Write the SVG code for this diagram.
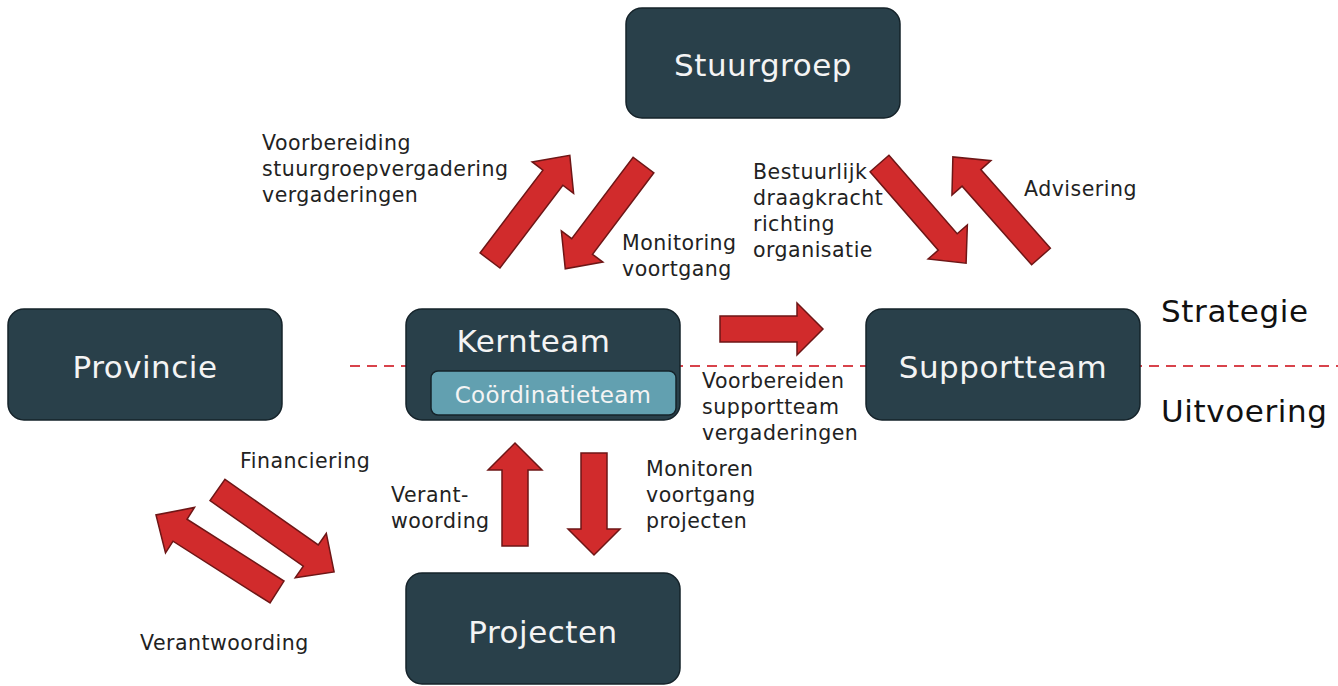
<svg xmlns="http://www.w3.org/2000/svg" width="1338" height="686" viewBox="0 0 1338 686">
<style>
.node{fill:#29404a;stroke:#15232a;stroke-width:1.5}
.inner{fill:#62a0b0;stroke:#15232a;stroke-width:1.5}
.nt{font-family:"DejaVu Sans",sans-serif;font-size:31px;letter-spacing:0.5px;fill:#f4f4f4;text-anchor:middle}
.it{font-family:"DejaVu Sans",sans-serif;font-size:23px;letter-spacing:0.3px;fill:#f4f4f4;text-anchor:middle}
.lb{font-family:"DejaVu Sans",sans-serif;font-size:20.5px;letter-spacing:0.5px;fill:#222}
.big{font-family:"DejaVu Sans",sans-serif;font-size:31px;letter-spacing:0.6px;fill:#111}
.arr{fill:#d12b2c;stroke:#6e1616;stroke-width:1.5;stroke-linejoin:miter}
.dash{stroke:#d8434b;stroke-width:2.2;stroke-dasharray:10 7;fill:none}
</style>
<rect width="1338" height="686" fill="#ffffff"/>
<g id="connectors">
<line class="dash" x1="350" y1="366" x2="1338" y2="366"/>
<path class="arr" transform="translate(490,260.5) rotate(-52.8)" d="M0,-12.5 L104,-12.5 L104,-26 L132,0 L104,26 L104,12.5 L0,12.5 Z"/>
<path class="arr" transform="translate(643.5,165) rotate(127)" d="M0,-13 L102,-13 L102,-26 L130,0 L102,26 L102,13 L0,13 Z"/>
<path class="arr" transform="translate(879.5,163.5) rotate(49)" d="M0,-12.5 L104,-12.5 L104,-26 L132,0 L104,26 L104,12.5 L0,12.5 Z"/>
<path class="arr" transform="translate(1041,256.5) rotate(-131.5)" d="M0,-12.5 L105,-12.5 L105,-26 L133,0 L105,26 L105,12.5 L0,12.5 Z"/>
<path class="arr" transform="translate(720,329)" d="M0,-13 L77,-13 L77,-26 L103,0 L77,26 L77,13 L0,13 Z"/>
<path class="arr" transform="translate(515,546) rotate(-90)" d="M0,-13 L76,-13 L76,-27 L103,0 L76,27 L76,13 L0,13 Z"/>
<path class="arr" transform="translate(594,453) rotate(90)" d="M0,-13 L76,-13 L76,-26 L102,0 L76,26 L76,13 L0,13 Z"/>
<path class="arr" transform="translate(217.5,490) rotate(35.1)" d="M0,-13 L114,-13 L114,-27 L142.5,0 L114,27 L114,13 L0,13 Z"/>
<path class="arr" transform="translate(277,592) rotate(-147.5)" d="M0,-13 L115,-13 L115,-27 L143.5,0 L115,27 L115,13 L0,13 Z"/>
</g>
<g id="stuurgroep">
<rect class="node" x="626" y="8" width="274" height="110" rx="16"/>
<text class="nt" x="763" y="76">Stuurgroep</text>
</g>
<g id="provincie">
<rect class="node" x="8" y="309" width="274" height="111" rx="16"/>
<text class="nt" x="145" y="378">Provincie</text>
</g>
<g id="kernteam">
<rect class="node" x="406" y="309" width="274" height="111" rx="16"/>
<text class="nt" x="533.5" y="352">Kernteam</text>
<g id="coordinatieteam">
<rect class="inner" x="431" y="371" width="245" height="44" rx="7"/>
<text class="it" x="553" y="403">Coördinatieteam</text>
</g>
</g>
<g id="supportteam">
<rect class="node" x="866" y="309" width="274" height="111" rx="16"/>
<text class="nt" x="1003" y="378">Supportteam</text>
</g>
<g id="projecten">
<rect class="node" x="406" y="573" width="274" height="111" rx="16"/>
<text class="nt" x="543" y="643">Projecten</text>
</g>
<g id="labels">
<text class="lb" x="262" y="150">Voorbereiding</text>
<text class="lb" x="262" y="176">stuurgroepvergadering</text>
<text class="lb" x="262" y="202">vergaderingen</text>
<text class="lb" x="622" y="250">Monitoring</text>
<text class="lb" x="622" y="276">voortgang</text>
<text class="lb" x="753" y="179">Bestuurlijk</text>
<text class="lb" x="753" y="205">draagkracht</text>
<text class="lb" x="753" y="231">richting</text>
<text class="lb" x="753" y="257">organisatie</text>
<text class="lb" x="1024" y="196">Advisering</text>
<text class="lb" x="702" y="388">Voorbereiden</text>
<text class="lb" x="702" y="414">supportteam</text>
<text class="lb" x="702" y="440">vergaderingen</text>
<text class="lb" x="240" y="468">Financiering</text>
<text class="lb" x="391" y="502">Verant-</text>
<text class="lb" x="391" y="528">woording</text>
<text class="lb" x="646" y="476">Monitoren</text>
<text class="lb" x="646" y="502">voortgang</text>
<text class="lb" x="646" y="528">projecten</text>
<text class="lb" x="140" y="650">Verantwoording</text>
<text class="big" x="1161" y="322">Strategie</text>
<text class="big" x="1161" y="422">Uitvoering</text>
</g>
</svg>
